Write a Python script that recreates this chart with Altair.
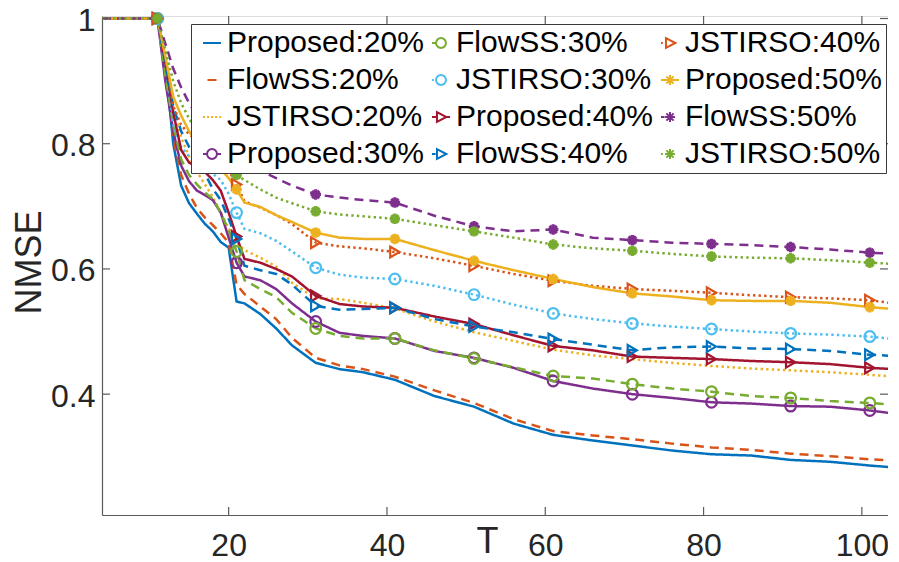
import altair as alt
import pandas as pd

FONT = "Liberation Sans"

T = [4, 11, 12, 13, 14, 15, 16, 17, 18, 19, 20, 21, 22, 24, 26, 28, 31, 34, 37,
     41, 46, 51, 56, 61, 66, 71, 76, 81, 86, 91, 96, 101, 104]
marker_T = [11, 21, 31, 41, 51, 61, 71, 81, 91, 101]

series_names = ["Proposed:20%", "FlowSS:20%", "JSTIRSO:20%",
                "Proposed:30%", "FlowSS:30%", "JSTIRSO:30%",
                "Proposed:40%", "FlowSS:40%", "JSTIRSO:40%",
                "Proposed:50%", "FlowSS:50%", "JSTIRSO:50%"]

p20 = [1.0, 1.0, 0.93, 0.80, 0.733, 0.705, 0.688, 0.672, 0.660, 0.643, 0.634, 0.548, 0.545, 0.528, 0.505, 0.478,
       0.450, 0.440, 0.435, 0.423, 0.397, 0.380, 0.353, 0.335, 0.326, 0.318, 0.310, 0.304, 0.302, 0.295, 0.292, 0.286, 0.283]
f20 = [1.0, 1.0, 0.93, 0.81, 0.75, 0.72, 0.697, 0.682, 0.670, 0.657, 0.642, 0.575, 0.560, 0.540, 0.520, 0.490,
       0.458, 0.446, 0.440, 0.428, 0.406, 0.386, 0.360, 0.341, 0.334, 0.328, 0.321, 0.315, 0.311, 0.305, 0.301, 0.296, 0.294]
j20 = [1.0, 1.0, 0.93, 0.86, 0.81, 0.78, 0.755, 0.735, 0.715, 0.69, 0.665, 0.642, 0.630, 0.618, 0.604, 0.578,
       0.553, 0.552, 0.546, 0.537, 0.516, 0.499, 0.485, 0.471, 0.462, 0.456, 0.450, 0.445, 0.441, 0.438, 0.435, 0.431, 0.428]
p30 = [1.0, 1.0, 0.90, 0.82, 0.765, 0.74, 0.725, 0.718, 0.71, 0.69, 0.65, 0.61, 0.588, 0.582, 0.568, 0.545,
       0.516, 0.498, 0.493, 0.489, 0.469, 0.458, 0.442, 0.421, 0.409, 0.400, 0.394, 0.387, 0.385, 0.381, 0.380, 0.374, 0.369]
f30 = [1.0, 1.0, 0.91, 0.83, 0.775, 0.75, 0.735, 0.722, 0.712, 0.69, 0.662, 0.628, 0.582, 0.568, 0.555, 0.53,
       0.505, 0.493, 0.489, 0.489, 0.470, 0.457, 0.443, 0.429, 0.425, 0.416, 0.409, 0.404, 0.397, 0.394, 0.389, 0.386, 0.383]
j30 = [1.0, 1.0, 0.93, 0.83, 0.795, 0.78, 0.77, 0.76, 0.752, 0.742, 0.72, 0.690, 0.664, 0.657, 0.645, 0.628,
       0.602, 0.591, 0.586, 0.584, 0.573, 0.559, 0.543, 0.529, 0.520, 0.513, 0.508, 0.504, 0.500, 0.497, 0.495, 0.492, 0.488]
p40 = [1.0, 1.0, 0.93, 0.85, 0.79, 0.77, 0.763, 0.755, 0.742, 0.725, 0.69, 0.652, 0.616, 0.610, 0.600, 0.588,
       0.557, 0.544, 0.540, 0.538, 0.524, 0.512, 0.494, 0.477, 0.470, 0.460, 0.458, 0.456, 0.453, 0.451, 0.448, 0.442, 0.440]
f40 = [1.0, 1.0, 0.93, 0.86, 0.82, 0.795, 0.775, 0.752, 0.728, 0.71, 0.68, 0.648, 0.605, 0.598, 0.592, 0.575,
       0.541, 0.535, 0.536, 0.538, 0.520, 0.508, 0.499, 0.488, 0.479, 0.470, 0.475, 0.476, 0.473, 0.472, 0.469, 0.463, 0.461]
j40 = [1.0, 1.0, 0.94, 0.86, 0.83, 0.815, 0.805, 0.793, 0.783, 0.772, 0.757, 0.735, 0.708, 0.698, 0.686, 0.672,
       0.642, 0.636, 0.633, 0.627, 0.617, 0.605, 0.592, 0.581, 0.573, 0.568, 0.565, 0.562, 0.558, 0.555, 0.553, 0.550, 0.545]
p50 = [1.0, 1.0, 0.94, 0.875, 0.845, 0.82, 0.80, 0.79, 0.775, 0.76, 0.745, 0.727, 0.706, 0.699, 0.686, 0.675,
       0.658, 0.650, 0.648, 0.648, 0.630, 0.613, 0.598, 0.584, 0.571, 0.561, 0.556, 0.550, 0.549, 0.549, 0.546, 0.539, 0.536]
f50 = [1.0, 1.0, 0.96, 0.92, 0.89, 0.865, 0.845, 0.83, 0.815, 0.80, 0.79, 0.78, 0.77, 0.757, 0.745, 0.733,
       0.719, 0.714, 0.710, 0.706, 0.685, 0.668, 0.660, 0.663, 0.650, 0.646, 0.642, 0.640, 0.638, 0.635, 0.631, 0.626, 0.624]
j50 = [1.0, 1.0, 0.95, 0.90, 0.865, 0.84, 0.82, 0.80, 0.785, 0.772, 0.760, 0.750, 0.742, 0.727, 0.714, 0.705,
       0.692, 0.687, 0.684, 0.680, 0.670, 0.660, 0.650, 0.639, 0.633, 0.629, 0.624, 0.620, 0.618, 0.617, 0.614, 0.610, 0.608]

values = [p20, f20, j20, p30, f30, j30, p40, f40, j40, p50, f50, j50]

x_ticks = [20, 40, 60, 80, 100]
y_ticks = [0.4, 0.6, 0.8, 1.0]

# MATLAB default colour order
BLUE, ORANGE, YELLOW, PURPLE = "#0072BD", "#D95319", "#EDB120", "#7E2F8E"
GREEN, LIGHTBLUE, DARKRED = "#77AC30", "#4DBEEE", "#A2142F"
colors = [BLUE, ORANGE, YELLOW, PURPLE, GREEN, LIGHTBLUE, DARKRED, BLUE, ORANGE, YELLOW, PURPLE, GREEN]

SOLID, DASHED, DOTTED = [1, 0], [9, 6], [2.4, 3.2]
dashes = [SOLID, DASHED, DOTTED] * 4

marker_kind = [None, None, None, "circle", "circle", "circle",
               "triangle-right", "triangle-right", "triangle-right",
               "asterisk", "asterisk", "asterisk"]

ASTERISK = "M-1,0L1,0M0,-1L0,1M-0.7,-0.7L0.7,0.7M-0.7,0.7L0.7,-0.7"


def legend_path(style, marker):
    if marker is None:
        if style == "solid":
            return "M-1,0L1,0"
        if style == "dashed":
            return "M-0.5,0L0.5,0"
        return "M-1,0L-0.78,0M-0.55,0L-0.33,0M-0.1,0L0.12,0M0.35,0L0.57,0M0.8,0L1,0"
    if marker == "circle":
        m = "M-0.55,0A0.55,0.55,0,1,1,0.55,0A0.55,0.55,0,1,1,-0.55,0Z"
    elif marker == "triangle-right":
        m = "M-0.45,-0.55L0.6,0L-0.45,0.55Z"
    else:
        m = "M-0.55,0L0.55,0M0,-0.55L0,0.55M-0.4,-0.4L0.4,0.4M-0.4,0.4L0.4,-0.4"
    if style == "solid":
        return "M-1,0L-0.55,0M0.55,0L1,0" + m
    if style == "dashed":
        return "M-1,0L-0.6,0" + m
    return "M-1,0L-0.8,0" + m


styles = ["solid", "dashed", "dotted"] * 4

rows = []
for name, vals in zip(series_names, values):
    for t, v in zip(T, vals):
        rows.append({"series": name, "T": t, "v": v})
df = pd.DataFrame(rows)
mk = df[df["T"].isin(marker_T)]
ct_names = [n for n, k in zip(series_names, marker_kind) if k in ("circle", "triangle-right")]
ct_shapes = [k for k in marker_kind if k in ("circle", "triangle-right")]
ast_names = [n for n, k in zip(series_names, marker_kind) if k == "asterisk"]
mk_ct = mk[mk["series"].isin(ct_names)]
mk_ast = mk[mk["series"].isin(ast_names)]

W, H = 786, 499
AXC = "#5a5a5a"
TXT = "#262626"

xscale = alt.Scale(domain=[4, 103.3], nice=False, zero=False)
yscale = alt.Scale(domain=[0.207, 1.004], nice=False, zero=False)

x_axis = alt.Axis(values=x_ticks, title="T", grid=False, ticks=False, tickSize=0,
                  labelPadding=40, labelBaseline="alphabetic", labelFontSize=32,
                  labelColor=TXT, labelFont=FONT, domainColor=AXC, domainWidth=1.2,
                  titleFont=FONT, titleFontSize=36, titleFontWeight="normal", titleColor=TXT,
                  titleX=385, titleY=37, titleBaseline="alphabetic", titleAlign="center")
y_axis = alt.Axis(values=y_ticks, format=".1~f", title="NMSE", grid=False, ticks=False, tickSize=0,
                  labelPadding=7, labelBaseline="middle", labelFontSize=32, labelOffset=2,
                  labelColor=TXT, labelFont=FONT, domainColor=AXC, domainWidth=1.2,
                  titleFont=FONT, titleFontSize=36, titleFontWeight="normal", titleColor=TXT,
                  titleX=-62, titleY=246, titleAngle=270, titleBaseline="alphabetic", titleAlign="center")

X = alt.X("T:Q", scale=xscale, axis=x_axis)
Y = alt.Y("v:Q", scale=yscale, axis=y_axis)

color_enc = alt.Color("series:N", scale=alt.Scale(domain=series_names, range=colors), legend=None)

lines = alt.Chart(df).mark_line(strokeWidth=2.5, clip=True).encode(
    x=X, y=Y, color=color_enc,
    strokeDash=alt.StrokeDash("series:N", scale=alt.Scale(domain=series_names, range=dashes), legend=None),
)

pts_ct = alt.Chart(mk_ct).mark_point(filled=False, strokeWidth=2.2, size=115, opacity=1).encode(
    x=X, y=Y, color=color_enc,
    shape=alt.Shape("series:N", scale=alt.Scale(domain=ct_names, range=ct_shapes), legend=None),
)
pts_ast = alt.Chart(mk_ast).mark_point(filled=False, strokeWidth=3.2, size=110, opacity=1, shape=ASTERISK).encode(
    x=X, y=Y, color=color_enc,
)

xt = pd.DataFrame({"T": x_ticks})
yt = pd.DataFrame({"v": y_ticks})
tick_style = dict(color=AXC, strokeWidth=1.2)
tick_bottom = alt.Chart(xt).mark_rule(**tick_style).encode(x=X, y=alt.value(H), y2=alt.value(H - 8))
tick_top = alt.Chart(xt).mark_rule(**tick_style).encode(x=X, y=alt.value(0), y2=alt.value(8))
tick_left = alt.Chart(yt).mark_rule(**tick_style).encode(y=Y, x=alt.value(0), x2=alt.value(8))
tick_right = alt.Chart(yt).mark_rule(**tick_style).encode(y=Y, x=alt.value(W), x2=alt.value(W - 8))

plot = alt.layer(lines, pts_ct, pts_ast, tick_bottom, tick_top, tick_left, tick_right)

# Vega fills a 3-column legend column by column, like MATLAB's NumColumns legend
legend_paths = [legend_path(s, m) for s, m in zip(styles, marker_kind)]
leg_df = pd.DataFrame({"name": series_names, "T": [T[0]] * 12, "v": [vals[0] for vals in values]})

leg = alt.Legend(title=None, orient="none", legendX=89, legendY=8, columns=3,
                 labelFont=FONT, labelFontSize=30, labelColor="black", labelLimit=400,
                 labelOffset=0, symbolOffset=2, symbolSize=324, symbolStrokeWidth=2, symbolOpacity=1,
                 fillColor="white", strokeColor="#3a3a3a", padding=4,
                 rowPadding=7.0, columnPadding=0, cornerRadius=0)

legend_layer = alt.Chart(leg_df).mark_point(filled=False, opacity=0).encode(
    x=X, y=Y,
    color=alt.Color("name:N", scale=alt.Scale(domain=series_names, range=colors), legend=leg),
    shape=alt.Shape("name:N", scale=alt.Scale(domain=series_names, range=legend_paths), legend=leg),
)

chart = alt.layer(plot, legend_layer).resolve_scale(
    color="independent", shape="independent"
).properties(
    width=W, height=H,
    autosize=alt.AutoSizeParams(type="none"),
    padding={"left": 94, "top": 8, "right": 0, "bottom": 47},
).configure_view(stroke=AXC, strokeWidth=1.2).configure(font=FONT)

chart.save("out.html", embed_options={"renderer": "svg", "actions": False})
